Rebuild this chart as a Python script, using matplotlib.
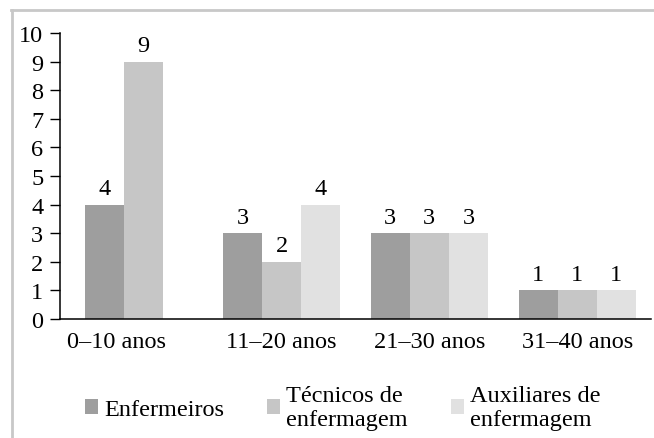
import matplotlib
matplotlib.use("Agg")
import matplotlib.pyplot as plt
import numpy as np
from matplotlib.lines import Line2D
from matplotlib.patches import Patch

plt.rcParams.update({
    "font.family": ["Liberation Serif", "DejaVu Serif"],
    "font.size": 17,
})

# dados
categorias = ["0–10 anos", "11–20 anos", "21–30 anos", "31–40 anos"]
enfermeiros = [4, 3, 3, 1]
tecnicos = [9, 2, 3, 1]
auxiliares = [np.nan, 4, 3, 1]
series_nomes = ["Enfermeiros", "Técnicos de\nenfermagem", "Auxiliares de\nenfermagem"]

CORES = ["#9e9e9e", "#c6c6c6", "#e1e1e1"]
W = 0.264
FS = 17.5

fig = plt.figure(figsize=(6.54, 4.39), dpi=100)
ax = fig.add_axes([60 / 654, 1 - 320 / 439, 591 / 654, (320 - 34) / 439])

dados = [enfermeiros, tecnicos, auxiliares]
ticks = []
for i in range(len(categorias)):
    presentes = [k for k in range(3) if not np.isnan(dados[k][i])]
    n = len(presentes)
    # no original o primeiro grupo (só duas barras) aparece um pouco à esquerda
    c0 = i - 0.065 if n < 3 else i
    ticks.append(i - 0.12 if n < 3 else i)
    for j, k in enumerate(presentes):
        v = dados[k][i]
        x = c0 + (j - (n - 1) / 2) * W
        c = ax.bar(x, v, width=W, color=CORES[k], linewidth=0)
        ax.bar_label(c, labels=[f"{v:g}"], padding=4, fontsize=FS)

ax.set_xlim(-0.5, len(categorias) - 0.5)
ax.set_ylim(0, 10)
ax.set_yticks(range(0, 11))
ax.set_xticks(ticks)
ax.set_xticklabels(categorias)
ax.tick_params(axis="x", length=0, pad=9, labelsize=FS)
ax.tick_params(axis="y", length=7, width=1, pad=5, labelsize=FS)
for s in ["top", "right"]:
    ax.spines[s].set_visible(False)
for s in ["left", "bottom"]:
    ax.spines[s].set_linewidth(1.1)

handles = [Patch(facecolor=c, edgecolor="none") for c in CORES]
fig.legend(handles, series_nomes, loc="center", bbox_to_anchor=(0.524, 0.07),
           ncol=3, frameon=False, fontsize=FS, handlelength=0.55, handleheight=0.55,
           handletextpad=0.25, columnspacing=1.75, labelspacing=0.05)

# moldura cinza do gráfico
fig.add_artist(Line2D([11 / 654, 1.0], [1 - 11 / 439] * 2, color="#c8c8c8", lw=2))
fig.add_artist(Line2D([12 / 654] * 2, [0, 1 - 11 / 439], color="#c8c8c8", lw=2))

fig.savefig("out.png", dpi=100)
